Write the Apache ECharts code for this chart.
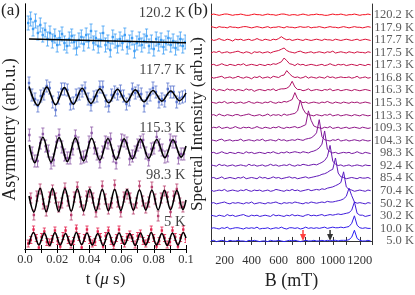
<!DOCTYPE html>
<html><head><meta charset="utf-8">
<script src="https://cdn.jsdelivr.net/npm/echarts@6/dist/echarts.min.js"></script>
<style>html,body{margin:0;padding:0;background:#fff}#c{width:415px;height:295px}</style>
</head><body><div id="c"></div>
<script>
// ---------------- Panel (a): muon asymmetry ----------------
const tickLabelsA = ['0.0','0.02','0.04','0.06','0.08','0.1'];
const tempsA = ['120.2 K','117.7 K','115.3 K','98.3 K','5 K'];
const labelAnchorA = [236, 179, 121, 74, 27];

// 120.2 K
const t1202 = [0.0020,0.0035,0.0050,0.0065,0.0080,0.0095,0.0110,0.0125,0.0140,0.0155,0.0170,0.0185,0.0200,0.0215,0.0230,0.0245,0.0260,0.0275,0.0290,0.0305,0.0320,0.0335,0.0350,0.0365,0.0380,0.0395,0.0410,0.0425,0.0440,0.0455,0.0470,0.0485,0.0500,0.0515,0.0530,0.0545,0.0560,0.0575,0.0590,0.0605,0.0620,0.0635,0.0650,0.0665,0.0680,0.0695,0.0710,0.0725,0.0740,0.0755,0.0770,0.0785,0.0800,0.0815,0.0830,0.0845,0.0860,0.0875,0.0890,0.0905,0.0920,0.0935,0.0950,0.0965,0.0980,0.0995];
const y1202 = [226,230,220,228,216,224,214,219,210,216,208,213,204,211,215,206,203,210,213,207,201,209,212,205,214,208,218,206,211,203,209,216,204,207,199,212,208,203,210,206,214,202,207,211,198,206,210,204,208,213,203,207,200,210,205,209,202,206,211,204,208,201,206,210,203,207];
const fit1202 = [[0.0025,210],[0.1,206.3]];

// 117.7 K
const t1177 = [0.0025,0.0043,0.0062,0.0080,0.0098,0.0117,0.0135,0.0153,0.0172,0.0190,0.0208,0.0227,0.0245,0.0263,0.0282,0.0300,0.0318,0.0337,0.0355,0.0373,0.0392,0.0410,0.0428,0.0447,0.0465,0.0483,0.0502,0.0520,0.0538,0.0557,0.0575,0.0593,0.0612,0.0630,0.0648,0.0667,0.0685,0.0703,0.0722,0.0740,0.0758,0.0777,0.0795,0.0813,0.0832,0.0850,0.0868,0.0887,0.0905,0.0923,0.0942,0.0960,0.0978,0.0997];
const y1177 = [166,154,150,143,153,155,163,161,147,139,151,160,160,159,145,146,154,155,158,161,150,144,152,153,162,162,148,143,154,157,155,158,153,145,149,160,156,158,155,143,151,154,161,157,147,150,148,160,157,157,147,151,152,153];
const fit1177 = [[0.0025,162.5],[0.0080,143.6],[0.0135,161.9],[0.0190,144.2],[0.0245,161.4],[0.0300,144.8],[0.0355,160.8],[0.0410,145.5],[0.0465,160.2],[0.0520,146.2],[0.0575,159.7],[0.0630,146.7],[0.0685,159.1],[0.0740,147.2],[0.0795,158.5],[0.0850,147.9],[0.0905,158.0],[0.0960,148.3],[0.1000,156]];

// 115.3 K
const t1153 = [0.0027,0.0044,0.0061,0.0078,0.0095,0.0111,0.0128,0.0145,0.0162,0.0179,0.0196,0.0212,0.0229,0.0246,0.0263,0.0280,0.0297,0.0313,0.0330,0.0347,0.0364,0.0381,0.0398,0.0414,0.0431,0.0448,0.0465,0.0482,0.0499,0.0515,0.0532,0.0549,0.0566,0.0583,0.0600,0.0616,0.0633,0.0650,0.0667,0.0684,0.0700,0.0717,0.0734,0.0751,0.0768,0.0785,0.0801,0.0818,0.0835,0.0852,0.0869,0.0886,0.0902,0.0919,0.0936,0.0953,0.0970,0.0987];
const y1153 = [114,96,88,88,106,115,103,98,86,89,107,114,102,94,91,91,100,113,106,91,92,93,107,116,101,95,87,97,107,106,110,93,86,97,109,108,106,90,93,97,104,107,109,96,89,100,101,112,104,99,92,93,109,107,107,91,95,95];
const fit1153 = [[0.0027,104],[0.0061,86.3],[0.0111,111.7],[0.0162,86.8],[0.0212,111.4],[0.0263,87.5],[0.0313,111.1],[0.0364,88.1],[0.0414,110.8],[0.0465,88.8],[0.0515,110.5],[0.0566,89.3],[0.0616,110.1],[0.0667,90.0],[0.0717,109.9],[0.0768,90.7],[0.0818,109.5],[0.0869,91.2],[0.0919,109.2],[0.0970,91.9],[0.1000,103]];

// 98.3 K
const t983 = [0.0036,0.0055,0.0074,0.0094,0.0113,0.0132,0.0152,0.0171,0.0190,0.0209,0.0229,0.0248,0.0267,0.0287,0.0306,0.0325,0.0345,0.0364,0.0383,0.0402,0.0422,0.0441,0.0460,0.0480,0.0499,0.0518,0.0538,0.0557,0.0576,0.0595,0.0615,0.0634,0.0653,0.0673,0.0692,0.0711,0.0731,0.0750,0.0769,0.0788,0.0808,0.0827,0.0846,0.0866,0.0885,0.0904,0.0924,0.0943,0.0962,0.0981];
const y983 = [51,34,53,60,45,38,52,59,51,42,46,61,48,34,52,62,47,39,53,57,51,37,45,63,50,40,46,64,47,37,52,55,51,40,46,63,48,41,47,62,50,33,51,58,52,37,53,60,46,42];
const fit983 = [[0.0025,53],[0.0055,37.0],[0.0094,60.8],[0.0132,37.3],[0.0171,60.6],[0.0209,37.5],[0.0248,60.4],[0.0287,37.7],[0.0325,60.2],[0.0364,37.9],[0.0402,60.0],[0.0441,38.1],[0.0480,59.8],[0.0518,38.3],[0.0557,59.6],[0.0595,38.5],[0.0634,59.4],[0.0673,38.7],[0.0711,59.2],[0.0750,38.9],[0.0788,59.0],[0.0827,39.1],[0.0866,58.8],[0.0904,39.3],[0.0943,58.6],[0.0981,39.5],[0.1000,49]];

// 5 K
const t5 = [0.0020,0.0036,0.0053,0.0070,0.0086,0.0103,0.0120,0.0136,0.0153,0.0169,0.0186,0.0203,0.0219,0.0236,0.0252,0.0269,0.0286,0.0302,0.0319,0.0335,0.0352,0.0369,0.0385,0.0402,0.0418,0.0435,0.0452,0.0468,0.0485,0.0501,0.0518,0.0535,0.0551,0.0568,0.0584,0.0601,0.0618,0.0634,0.0651,0.0667,0.0684,0.0700,0.0717,0.0734,0.0750,0.0767,0.0784,0.0800,0.0817,0.0833,0.0850,0.0867,0.0883,0.0900,0.0916,0.0933,0.0950,0.0966,0.0983,0.0999];
const y5 = [5.5,9,19.5,11,1.5,12,17.5,7,6.5,10,18.5,8,2.5,13,18.5,9,4.5,8,20.5,12,1.5,11,19.5,9,5.5,7,17.5,12,2.5,13,18.5,8,3.5,11,19.5,9,5.5,12,14.5,11,4.5,13,15.5,8,5.5,10,19.5,11,2.5,8,18.5,11,4.5,7,18.5,12,2.5,11,19.5,10];
const fit5 = [[0.0025,4.5],[0.0053,16.5],[0.0086,4],[0.0120,16],[0.0153,3.5],[0.0186,16.5],[0.0219,4],[0.0252,15.5],[0.0286,3.5],[0.0319,16.5],[0.0352,4.5],[0.0385,16],[0.0418,4],[0.0452,15.5],[0.0485,3.5],[0.0518,16.5],[0.0551,4],[0.0584,16],[0.0618,4.5],[0.0651,15.5],[0.0684,3.5],[0.0717,16],[0.0750,4],[0.0784,16.5],[0.0817,4],[0.0850,15.5],[0.0883,3.5],[0.0916,16],[0.0950,4],[0.0983,16.5],[0.1000,11]];

const errA = [7, 6, 6, 5, 3.5];

// ---------------- Panel (b): Fourier spectra ----------------
const fieldB = [100,120,140,160,180,200,220,240,260,280,300,320,340,360,380,400,420,440,460,480,500,520,540,560,580,600,620,640,660,680,700,720,740,760,780,800,820,840,860,880,900,920,940,960,980,1000,1020,1040,1060,1080,1100,1120,1140,1160,1180,1200,1220,1240,1260,1280];
const tempsB = ['120.2 K','117.9 K','117.7 K','117.5 K','117.3 K','116.8 K','116.3 K','115.3 K','113.3 K','109.3 K','104.3 K','98.3 K','92.4 K','85.4 K','70.4 K','50.2 K','30.2 K','10.0 K','5.0 K'];
const s1202 = [0,1,0,-1,0,1,1,0,-1,0, 0,1,0,-1,-1,0,1,0,0,-1, 0,1,0,0,-1,0,1,1,0,-1, 0,0,-1,0,1,0,-1,0,0,1, 0,0,-1,-1,0,1,0,0,1,0, -1,0,0,1,0,-1,0,0,1,0];
const s1179 = [1,0,-1,1,0,0,-1,1,0,0, -1,0,1,1,0,-1,0,1,0,-1, 0,1,-1,0,0,1,0,-1,1,0, 0,-1,0,1,0,0,1,-1,0,0, 1,0,-1,0,1,0,0,-1,0,1, 0,-1,0,1,0,0,-1,0,1,0];
const s1177 = [1,-1,0,2,0,-1,1,0,-2,1, 0,1,-1,0,1,-1,0,2,0,-1, 1,0,-1,1,0,2,5,2,0,1, -1,0,1,0,-1,1,0,-1,0,1, 0,-1,1,0,0,-1,1,0,-1,0, 1,0,-1,0,1,-1,0,1,0,-1];
const s1175 = [-1,1,0,2,-1,0,1,-1,0,1, 2,0,-1,1,0,-2,1,0,1,-1, 0,1,-1,1,2,3,5,7,3,1, 0,-1,1,2,0,-1,0,1,-1,0, 1,0,-1,1,0,2,-1,0,1,0, -1,1,0,-1,1,0,0,-1,1,0];
const s1173 = [0,1,-1,0,2,0,-1,1,0,-1, 1,0,2,-1,0,1,0,-1,1,0, -1,1,0,2,1,3,5,11,7,2, 1,-1,2,0,1,-1,0,1,0,-1, 0,1,-1,0,2,0,-1,1,0,1, -1,0,1,0,-1,1,0,-1,1,0];
const s1168 = [1,-1,0,1,2,-1,0,1,-1,0, 2,0,-1,1,0,-2,1,0,2,-1, 0,1,-1,2,1,0,3,4,11,6, 2,0,1,-1,0,2,-1,1,0,-1, 1,0,-1,2,0,1,-1,0,1,0, 0,1,-1,0,2,-1,0,1,-1,0];
const s1163 = [0,2,-1,1,0,-1,2,0,1,-1, 1,0,-1,2,0,1,-2,0,1,0, -1,1,0,2,-1,1,2,2,3,6, 14,5,1,1,-1,0,2,-1,0,1, 0,-1,1,0,2,-1,0,1,-1,0, 1,0,-1,1,0,-1,0,1,0,-1];
const s1153 = [1,0,-1,1,0,2,-1,0,1,-1, 0,1,-1,0,2,0,-1,1,0,-1, 1,0,2,0,-1,1,0,2,1,3, 5,16,6,2,0,1,-1,0,1,0, -1,1,0,2,0,-1,1,0,-1,1, 0,-1,1,0,1,-1,0,1,0,-1];
const s1133 = [0,1,-1,2,0,-1,1,0,-1,1, 1,-1,0,1,2,0,-1,0,1,-1, 0,2,-1,1,0,1,-1,2,0,1, 2,3,7,24,10,3,1,0,-1,1, 0,-1,1,0,2,-1,0,1,-1,0, 1,0,-1,1,0,-1,1,0,-1,0];
const s1093 = [-1,1,0,2,-1,0,1,-1,0,2, 0,-1,1,0,1,-1,0,2,0,-1, 1,0,-1,1,0,2,0,-1,1,0, 1,2,0,1,3,5,27,12,3,1, 0,-1,1,0,2,-1,0,1,-1,0, 1,-1,0,1,0,-1,1,0,-1,0];
const s1043 = [1,0,-1,1,2,-1,0,1,-1,0, 0,2,-1,0,1,0,-1,1,0,2, -1,0,1,0,-1,2,0,1,-1,0, 1,0,2,1,0,2,3,4,7,12, 33,6,1,0,-1,1,0,2,-1,0, 1,-1,0,1,0,-1,1,0,-1,0];
const s983 = [0,1,-1,0,2,0,-1,1,0,-1, 1,0,-1,2,0,1,-1,0,1,0, -1,1,0,2,0,-1,1,0,2,0, 1,2,1,0,2,1,0,2,3,5, 8,14,35,6,2,0,1,-1,0,1, 0,1,-1,0,2,0,-1,1,0,-1];
const s924 = [1,0,-1,2,0,1,-1,0,1,-1, 0,1,0,-1,2,0,1,-1,0,1, -1,0,2,0,1,-1,0,1,0,2, 0,-1,1,0,2,1,0,1,2,1, 3,5,8,14,32,7,2,0,1,-1, 0,1,-1,0,1,0,-1,1,0,0];
const s854 = [0,1,-1,0,2,-1,0,1,0,-1, 1,0,2,-1,0,1,0,-1,2,0, 1,-1,0,2,0,1,-1,0,1,2, 0,1,-1,0,1,2,0,1,2,3, 4,6,7,9,12,14,32,8,2,1, -1,0,1,0,-1,1,0,0,1,-1];
const s704 = [1,-1,0,1,0,2,-1,0,1,0, -1,1,0,2,0,-1,1,0,1,-1, 0,1,-1,0,2,1,0,-1,1,0, 2,0,1,-1,0,1,2,0,1,2, 1,3,2,4,5,6,8,10,13,30, 6,2,1,-1,0,1,0,-1,1,0];
const s502 = [0,1,-1,0,1,2,0,-1,1,0, 1,0,-1,1,0,2,-1,0,1,0, -1,1,0,1,2,0,-1,1,0,1, 0,2,1,0,-1,1,0,2,1,0, 1,2,1,3,2,2,3,4,5,7, 11,24,12,2,0,1,0,-1,1,0];
const s302 = [1,0,-1,1,0,-1,2,0,1,-1, 0,1,2,0,-1,1,0,1,-1,0, 1,0,-1,2,0,1,0,-1,1,0, 2,0,1,0,-1,1,2,0,1,0, 1,2,0,1,2,1,2,3,2,3, 4,5,9,22,4,1,1,-1,0,1];
const s100 = [0,1,0,-1,1,0,2,-1,0,1, 1,0,-1,1,0,1,0,2,-1,0, 0,1,-1,0,1,0,2,0,-1,1, 1,0,1,-1,0,2,0,1,0,1, 0,1,2,0,1,2,1,1,2,1, 2,3,8,20,5,1,0,1,0,0];
const s50 = [0,1,-1,0,1,0,-1,1,0,0, 1,0,0,-1,1,0,1,0,-1,0, 0,-1,1,0,0,1,0,-1,0,1, 0,1,0,-1,0,1,0,0,1,0, 0,1,0,1,0,1,1,0,1,1, 1,2,6,17,4,1,0,0,1,0];
const spectraB = [s1202,s1179,s1177,s1175,s1173,s1168,s1163,s1153,s1133,s1093,s1043,s983,s924,s854,s704,s502,s302,s100,s50];
const arrowsB = [780, 980];

// ---------------- build ----------------
const FONT = 'Liberation Serif';
const STEP = 20;
const B_MAX = 1290;
const colorsA = ['#3d9df5','#5b76d0','#8d5aa8','#b83d6c','#e3224d'];
const seriesA = [
  {t:t1202,y:y1202,fit:fit1202},{t:t1177,y:y1177,fit:fit1177},{t:t1153,y:y1153,fit:fit1153},
  {t:t983,y:y983,fit:fit983},{t:t5,y:y5,fit:fit5}
];
function errItem(color){
  return function(params, api){
    const x = api.value(0), y = api.value(1), e = api.value(2);
    const p = api.coord([x,y]), hi = api.coord([x,y+e]), lo = api.coord([x,y-e]);
    const c = 1.6;
    const st = {stroke:color, lineWidth:1, opacity:0.8};
    return {type:'group', children:[
      {type:'line', shape:{x1:p[0],y1:hi[1],x2:p[0],y2:lo[1]}, style:st},
      {type:'line', shape:{x1:p[0]-c,y1:hi[1],x2:p[0]+c,y2:hi[1]}, style:st},
      {type:'line', shape:{x1:p[0]-c,y1:lo[1],x2:p[0]+c,y2:lo[1]}, style:st},
      {type:'rect', shape:{x:p[0]-1.2,y:p[1]-1.2,width:2.4,height:2.4}, style:{fill:color}}
    ]};
  };
}
const series = [];
seriesA.forEach((s,k)=>{
  series.push({type:'custom', xAxisIndex:0, yAxisIndex:0, clip:true, z:2,
    renderItem: errItem(colorsA[k]),
    data: s.t.map((t,i)=>[t, s.y[i], errA[k]])});
});
seriesA.forEach((s,k)=>{
  series.push({type:'line', xAxisIndex:0, yAxisIndex:0, data:s.fit, smooth:0.36, showSymbol:false,
    lineStyle:{color:'#000', width:1.6}, z:5, silent:true});
});
series.push({type:'scatter', xAxisIndex:0, yAxisIndex:0, symbolSize:0, z:6,
  data: tempsA.map((n,k)=>({value:[0.0996, labelAnchorA[k]], name:n})),
  label:{show:true, position:'left', distance:0, formatter:p=>p.name, fontFamily:FONT, fontSize:14.5, color:'#111'}});

function mix(a,b,f){return Math.round(a+(b-a)*f);}
spectraB.forEach((arr,k)=>{
  const f = k/(spectraB.length-1);
  const col = 'rgb('+mix(245,40,f)+','+mix(15,30,f)+','+mix(30,245,f)+')';
  const off = (spectraB.length-1-k)*STEP;
  series.push({type:'line', xAxisIndex:2, yAxisIndex:2, showSymbol:false, z:3, silent:true,
    lineStyle:{color:col, width:1}, data: fieldB.map((b,i)=>[b, off+arr[i]])});
});
// temperature labels at the right of panel (b)
series.push({type:'scatter', xAxisIndex:2, yAxisIndex:2, symbolSize:0, z:6, silent:true,
  data: tempsB.map((n,k)=>({value:[B_MAX,(tempsB.length-1-k)*STEP], name:n})),
  label:{show:true, position:[42,0], align:'right', verticalAlign:'middle', formatter:p=>p.name,
    fontFamily:FONT, fontSize:12.5, color:'#333'}});
series.push({type:'scatter', xAxisIndex:2, yAxisIndex:2, z:7, silent:true,
  symbol:'path://M3,0 L5,0 L5,4 L8,4 L4,11 L0,4 L3,4 Z', symbolSize:[6,11], symbolOffset:[0,'-50%'],
  data: arrowsB.map((b,k)=>({value:[b,0], itemStyle:{color: k===0?'#ff1010':'#000'}}))});

const axisCol = '#000';
const option = {
  animation:false, backgroundColor:'#fff',
  textStyle:{fontFamily:FONT},
  grid:[{left:23,right:229,top:4,bottom:46},{left:211,right:43,top:4,bottom:49}],
  xAxis:[
    {gridIndex:0, type:'value', min:0, max:0.1, interval:0.01,
     axisLine:{lineStyle:{color:axisCol,width:1}}, axisTick:{inside:true,length:4,lineStyle:{color:axisCol}},
     splitLine:{show:false},
     axisLabel:{fontFamily:FONT,fontSize:12.5,color:'#333',margin:4,showMinLabel:true,showMaxLabel:true,
       formatter:v=>{const k=Math.round(v*100); return k%2===0? tickLabelsA[k/2]:'';}},
     name:'{a|t (}{b|μ}{a| s)}', nameLocation:'middle', nameGap:14,
     nameTextStyle:{rich:{a:{fontFamily:FONT,fontSize:17,color:'#222'},b:{fontFamily:FONT,fontSize:17,fontStyle:'italic',color:'#222'}}}},
    {gridIndex:0, type:'value', position:'top', min:0, max:0.1, interval:0.01,
     axisLine:{lineStyle:{color:axisCol,width:1}}, axisTick:{inside:true,length:4,lineStyle:{color:axisCol}},
     axisLabel:{show:false}, splitLine:{show:false}},
    {gridIndex:1, type:'value', min:100, max:B_MAX, interval:100,
     axisLine:{lineStyle:{color:'#333',width:1}}, axisTick:{inside:true,length:4,lineStyle:{color:'#333'}},
     splitLine:{show:false},
     axisLabel:{fontFamily:FONT,fontSize:12.5,color:'#333',margin:10,
       formatter:v=> (v%200===0 && v>=200 && v<=1200)? String(v):''},
     name:'B (mT)', nameLocation:'middle', nameGap:25,
     nameTextStyle:{fontFamily:FONT,fontSize:18,color:'#222'}},
    {gridIndex:1, type:'value', position:'top', min:100, max:B_MAX, interval:100,
     axisLine:{lineStyle:{color:'#333',width:1}}, axisTick:{inside:true,length:4,lineStyle:{color:'#333'}},
     axisLabel:{show:false}, splitLine:{show:false}}
  ],
  yAxis:[
    {gridIndex:0, type:'value', min:0, max:245, axisLine:{show:true,lineStyle:{color:axisCol}}, axisTick:{show:false},
     axisLabel:{show:false}, splitLine:{show:false},
     name:'Asymmetry (arb.u.)', nameLocation:'middle', nameGap:6, nameRotate:90,
     nameTextStyle:{fontFamily:FONT,fontSize:18,color:'#222',verticalAlign:'bottom',padding:[0,6,0,0]}},
    {gridIndex:0, type:'value', position:'right', min:0, max:245, axisLine:{show:true,lineStyle:{color:axisCol}},
     axisTick:{show:false}, axisLabel:{show:false}, splitLine:{show:false}},
    {gridIndex:1, type:'value', min:-5, max:377, axisLine:{show:true,lineStyle:{color:'#333'}}, axisTick:{show:false},
     axisLabel:{show:false}, splitLine:{show:false},
     name:'Spectral Intensity (arb.u.)', nameLocation:'middle', nameGap:5, nameRotate:90,
     nameTextStyle:{fontFamily:FONT,fontSize:17,color:'#222',verticalAlign:'bottom'}},
    {gridIndex:1, type:'value', position:'right', min:-5, max:377, axisLine:{show:true,lineStyle:{color:'#333'}},
     axisTick:{show:false}, splitLine:{show:false}, axisLabel:{show:false}}
  ],
  graphic:[
    {type:'text', left:1, top:2, style:{text:'(a)', font:'17px "Liberation Serif"', fill:'#222'}},
    {type:'text', left:188, top:2, style:{text:'(b)', font:'17px "Liberation Serif"', fill:'#222'}}
  ],
  series
};
const chart = echarts.init(document.getElementById('c'), null, {renderer:'canvas'});
chart.setOption(option);
</script></body></html>
